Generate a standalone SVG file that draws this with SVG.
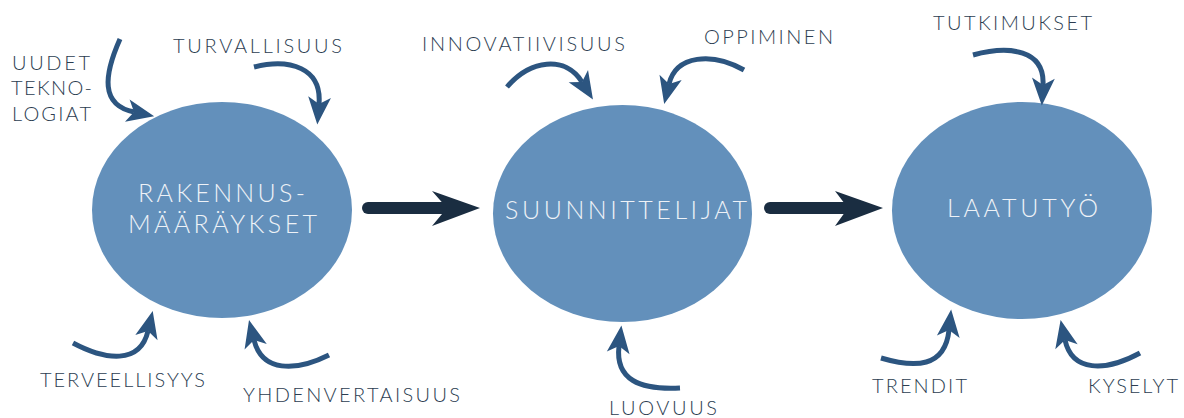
<svg xmlns="http://www.w3.org/2000/svg" width="1184" height="418" viewBox="0 0 1184 418">
  <style>
    .node { fill: #6390bb; }
    .ntext { font-family: Lato, "Open Sans", "Liberation Sans", sans-serif; font-weight: 300; font-size: 25px; fill: #eef2f7; }
    .label { font-family: Lato, "Open Sans", "Liberation Sans", sans-serif; font-weight: 300; font-size: 20px; fill: #2c3d51; }
    .curve { fill: none; stroke: #2c5580; stroke-width: 5; marker-end: url(#head); }
    .shaft { stroke: #1a2d41; stroke-width: 12; stroke-linecap: round; }
    .bighead { fill: #1a2d41; }
  </style>
  <defs>
    <marker id="head" markerUnits="userSpaceOnUse" markerWidth="40" markerHeight="40" viewBox="-10 -15 35 30" refX="0" refY="0" orient="auto">
      <path d="M-6,-10 L18,0 L-6,10 L0,0 Z" fill="#2c5580"/>
    </marker>
  </defs>

  <g id="node-rakennusmaaraykset">
    <ellipse class="node" cx="222" cy="210" rx="130" ry="108"/>
    <text class="ntext" x="138" y="202" textLength="167" lengthAdjust="spacing">RAKENNUS-</text>
    <text class="ntext" x="128" y="233" textLength="189" lengthAdjust="spacing">MÄÄRÄYKSET</text>
  </g>
  <g id="node-suunnittelijat">
    <ellipse class="node" cx="622.5" cy="213.5" rx="129.5" ry="108.5"/>
    <text class="ntext" x="505" y="219" textLength="242" lengthAdjust="spacing">SUUNNITTELIJAT</text>
  </g>
  <g id="node-laatutyo">
    <ellipse class="node" cx="1022" cy="210.5" rx="130" ry="108.5"/>
    <text class="ntext" x="947" y="217" textLength="151" lengthAdjust="spacing">LAATUTYÖ</text>
  </g>

  <g id="labels">
    <text class="label" x="12" y="70" textLength="78" lengthAdjust="spacing">UUDET</text>
    <text class="label" x="11" y="95" textLength="81" lengthAdjust="spacing">TEKNO-</text>
    <text class="label" x="12" y="121" textLength="79" lengthAdjust="spacing">LOGIAT</text>
    <text class="label" x="173" y="53" textLength="169" lengthAdjust="spacing">TURVALLISUUS</text>
    <text class="label" x="40" y="387" textLength="165" lengthAdjust="spacing">TERVEELLISYYS</text>
    <text class="label" x="243" y="402" textLength="217" lengthAdjust="spacing">YHDENVERTAISUUS</text>
    <text class="label" x="422" y="51" textLength="203" lengthAdjust="spacing">INNOVATIIVISUUS</text>
    <text class="label" x="704" y="44" textLength="129" lengthAdjust="spacing">OPPIMINEN</text>
    <text class="label" x="609" y="415" textLength="108" lengthAdjust="spacing">LUOVUUS</text>
    <text class="label" x="933" y="30" textLength="159" lengthAdjust="spacing">TUTKIMUKSET</text>
    <text class="label" x="872" y="393" textLength="95" lengthAdjust="spacing">TRENDIT</text>
    <text class="label" x="1088" y="393" textLength="90" lengthAdjust="spacing">KYSELYT</text>
  </g>

  <g id="connectors">
    <line class="shaft" x1="368" y1="208" x2="448" y2="208"/>
    <polygon class="bighead" points="480,208 432,191 447,208 432,226"/>
    <line class="shaft" x1="770" y1="208" x2="850" y2="208"/>
    <polygon class="bighead" points="883,208 835,191 848,208 835,226"/>

    <path class="curve" d="M120,39 C104,75 100,105 134,112"/>
    <path class="curve" d="M254,67 C290,58 322,68 319,104"/>
    <path class="curve" d="M73,343 C105,360 140,365 148,331"/>
    <path class="curve" d="M329,355 C295,372 262,372 254,340"/>
    <path class="curve" d="M507,87 C530,60 565,55 582,82"/>
    <path class="curve" d="M744,70 C712,52 676,55 669,84"/>
    <path class="curve" d="M680,388 C640,390 615,380 619,346"/>
    <path class="curve" d="M973,55 C1010,45 1045,50 1043,85"/>
    <path class="curve" d="M881,358 C915,368 945,368 949,330"/>
    <path class="curve" d="M1140,353 C1105,372 1072,372 1065,340"/>
  </g>
</svg>
